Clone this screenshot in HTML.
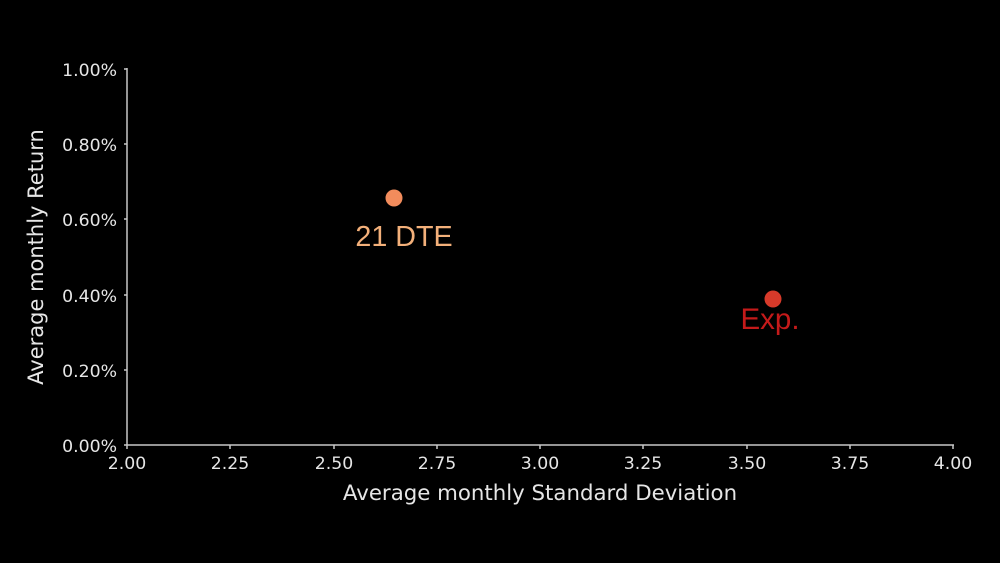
<!DOCTYPE html>
<html><head><style>
html,body{margin:0;padding:0;background:#000;}
svg{display:block;}
</style></head><body>
<svg width="1000" height="563" viewBox="0 0 1000 563" xmlns="http://www.w3.org/2000/svg">
<rect width="1000" height="563" fill="#000"/>
<g stroke="#c8c8c8" stroke-width="1.5" fill="none">
<line x1="127" y1="68" x2="127" y2="445.5"/>
<line x1="126.5" y1="445" x2="954" y2="445"/>
<line x1="124" y1="69" x2="127" y2="69"/>
<line x1="124" y1="144" x2="127" y2="144"/>
<line x1="124" y1="219" x2="127" y2="219"/>
<line x1="124" y1="295" x2="127" y2="295"/>
<line x1="124" y1="370" x2="127" y2="370"/>
<line x1="124" y1="445" x2="127" y2="445"/>
<line x1="127" y1="445" x2="127" y2="449"/>
<line x1="230" y1="445" x2="230" y2="449"/>
<line x1="334" y1="445" x2="334" y2="449"/>
<line x1="437" y1="445" x2="437" y2="449"/>
<line x1="540" y1="445" x2="540" y2="449"/>
<line x1="643" y1="445" x2="643" y2="449"/>
<line x1="747" y1="445" x2="747" y2="449"/>
<line x1="850" y1="445" x2="850" y2="449"/>
<line x1="953" y1="445" x2="953" y2="449"/>
</g>
<g fill="#e6e6e6" font-family="DejaVu Sans, sans-serif" font-size="17.3" text-anchor="end">
<text x="117" y="76">1.00%</text>
<text x="117" y="151">0.80%</text>
<text x="117" y="226">0.60%</text>
<text x="117" y="302">0.40%</text>
<text x="117" y="377">0.20%</text>
<text x="117" y="452">0.00%</text>
</g>
<g fill="#e6e6e6" font-family="DejaVu Sans, sans-serif" font-size="17.3" text-anchor="middle">
<text x="127" y="469">2.00</text>
<text x="230" y="469">2.25</text>
<text x="334" y="469">2.50</text>
<text x="437" y="469">2.75</text>
<text x="540" y="469">3.00</text>
<text x="643" y="469">3.25</text>
<text x="747" y="469">3.50</text>
<text x="850" y="469">3.75</text>
<text x="953" y="469">4.00</text>
<text x="540" y="500" font-size="21.3">Average monthly Standard Deviation</text>
<text transform="translate(43,257) rotate(-90)" font-size="21">Average monthly Return</text>
</g>
<circle cx="394" cy="198" r="8.5" fill="#f28c5c"/>
<circle cx="773" cy="299" r="8.5" fill="#d83a2a"/>
<text x="404" y="246" fill="#f3b07a" font-family="Liberation Sans, sans-serif" font-size="28.7" text-anchor="middle">21 DTE</text>
<text x="770" y="329" fill="#c41a1a" font-family="Liberation Sans, sans-serif" font-size="29.5" text-anchor="middle">Exp.</text>
</svg>
</body></html>
